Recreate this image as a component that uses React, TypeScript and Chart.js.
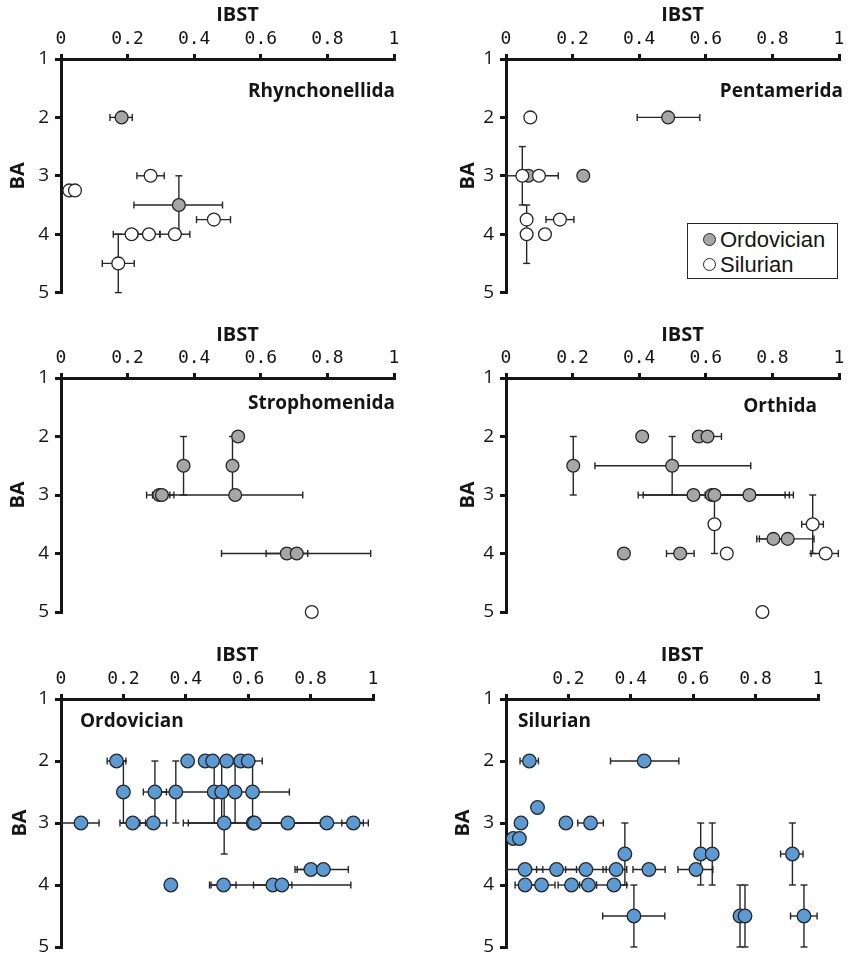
import React, { useEffect, useRef } from 'react';
import { Chart, registerables } from 'chart.js';

Chart.register(...registerables);

// Row: [IBST, BA, IBST low, IBST high, BA low, BA high]
type Row = [number, number, number | null, number | null, number | null, number | null];

const xTicks = [0, 0.2, 0.4, 0.6, 0.8, 1];
const yTicks = [1, 2, 3, 4, 5];

// Rhynchonellida
const rhyOrd: Row[] = [
  [0.182, 2, 0.147, 0.214, null, null],
  [0.354, 3.5, 0.219, 0.485, 3, 4],
];
const rhySil: Row[] = [
  [0.269, 3, 0.228, 0.31, null, null],
  [0.025, 3.25, null, null, null, null],
  [0.042, 3.25, null, null, null, null],
  [0.459, 3.75, 0.407, 0.509, null, null],
  [0.212, 4, 0.157, 0.264, null, null],
  [0.264, 4, 0.23, 0.297, null, null],
  [0.342, 4, 0.297, 0.387, null, null],
  [0.172, 4.5, 0.124, 0.22, 4, 5],
];

// Pentamerida
const penOrd: Row[] = [
  [0.487, 2, 0.394, 0.582, null, null],
  [0.067, 3, null, null, null, null],
  [0.232, 3, null, null, null, null],
];
const penSil: Row[] = [
  [0.073, 2, null, null, null, null],
  [0.049, 3, 0.002, 0.096, 2.5, 3.5],
  [0.099, 3, 0.041, 0.157, null, null],
  [0.062, 3.75, null, null, null, null],
  [0.162, 3.75, 0.12, 0.204, null, null],
  [0.062, 4, null, null, 3.5, 4.5],
  [0.117, 4, null, null, null, null],
];

// Strophomenida
const strOrd: Row[] = [
  [0.532, 2, null, null, null, null],
  [0.368, 2.5, null, null, 2, 3],
  [0.515, 2.5, null, null, 2, 3],
  [0.295, 3, 0.257, 0.339, null, null],
  [0.303, 3, 0.275, 0.327, null, null],
  [0.523, 3, 0.32, 0.726, null, null],
  [0.678, 4, 0.616, 0.741, null, null],
  [0.708, 4, 0.482, 0.93, null, null],
];
const strSil: Row[] = [[0.753, 5, null, null, null, null]];

// Orthida
const ortOrd: Row[] = [
  [0.409, 2, null, null, null, null],
  [0.579, 2, null, null, null, null],
  [0.605, 2, 0.562, 0.647, null, null],
  [0.202, 2.5, null, null, 2, 3],
  [0.499, 2.5, 0.267, 0.735, 2, 3],
  [0.563, 3, null, null, null, null],
  [0.618, 3, 0.397, 0.838, null, null],
  [0.626, 3, 0.412, 0.851, null, null],
  [0.731, 3, 0.598, 0.863, null, null],
  [0.803, 3.75, 0.753, 0.85, null, null],
  [0.846, 3.75, 0.761, 0.925, null, null],
  [0.354, 4, null, null, null, null],
  [0.523, 4, 0.482, 0.565, null, null],
];
const ortSil: Row[] = [
  [0.626, 3.5, null, null, 3, 4],
  [0.921, 3.5, 0.888, 0.953, 3, 4],
  [0.663, 4, null, null, null, null],
  [0.96, 4, 0.916, 0.998, null, null],
  [0.77, 5, null, null, null, null],
];

// Ordovician (all orders)
const ordAll: Row[] = [
  [0.178, 2, 0.148, 0.208, null, null],
  [0.406, 2, null, null, null, null],
  [0.462, 2, null, null, null, null],
  [0.486, 2, null, null, null, null],
  [0.531, 2, null, null, null, null],
  [0.576, 2, null, null, null, null],
  [0.6, 2, 0.555, 0.645, null, null],
  [0.2, 2.5, null, null, 2, 3],
  [0.301, 2.5, 0.264, 0.338, 2, 3],
  [0.368, 2.5, null, null, 2, 3],
  [0.491, 2.5, null, null, 2, 3],
  [0.515, 2.5, 0.296, 0.732, 2, 3],
  [0.558, 2.5, null, null, 2, 3],
  [0.614, 2.5, null, null, 2, 3],
  [0.064, 3, 0.002, 0.122, null, null],
  [0.23, 3, 0.189, 0.271, null, null],
  [0.296, 3, 0.253, 0.339, null, null],
  [0.523, 3, null, null, 2.5, 3.5],
  [0.616, 3, 0.392, 0.84, null, null],
  [0.62, 3, 0.408, 0.832, null, null],
  [0.727, 3, 0.603, 0.851, null, null],
  [0.852, 3, 0.735, 0.969, null, null],
  [0.937, 3, 0.9, 0.985, null, null],
  [0.801, 3.75, 0.75, 0.852, null, null],
  [0.841, 3.75, 0.757, 0.921, null, null],
  [0.352, 4, null, null, null, null],
  [0.521, 4, 0.476, 0.561, null, null],
  [0.679, 4, 0.617, 0.74, null, null],
  [0.708, 4, 0.481, 0.929, null, null],
];

// Silurian (all orders)
const silAll: Row[] = [
  [0.075, 2, 0.045, 0.104, null, null],
  [0.443, 2, 0.335, 0.554, null, null],
  [0.101, 2.75, null, null, null, null],
  [0.048, 3, null, null, null, null],
  [0.192, 3, null, null, null, null],
  [0.271, 3, 0.23, 0.312, null, null],
  [0.023, 3.25, null, null, null, null],
  [0.043, 3.25, null, null, null, null],
  [0.381, 3.5, null, null, 3, 4],
  [0.624, 3.5, null, null, 3, 4],
  [0.661, 3.5, null, null, 3, 4],
  [0.918, 3.5, 0.88, 0.952, 3, 4],
  [0.061, 3.75, 0.002, 0.118, null, null],
  [0.162, 3.75, 0.098, 0.226, null, null],
  [0.256, 3.75, 0.191, 0.321, null, null],
  [0.353, 3.75, 0.311, 0.387, null, null],
  [0.458, 3.75, 0.407, 0.51, null, null],
  [0.609, 3.75, 0.551, 0.663, null, null],
  [0.061, 4, 0.029, 0.098, null, null],
  [0.114, 4, 0.07, 0.157, null, null],
  [0.21, 4, 0.167, 0.25, null, null],
  [0.264, 4, 0.236, 0.29, null, null],
  [0.346, 4, 0.29, 0.387, null, null],
  [0.41, 4.5, 0.31, 0.509, 4, 5],
  [0.75, 4.5, null, null, 4, 5],
  [0.766, 4.5, null, null, 4, 5],
  [0.955, 4.5, 0.912, 0.997, 4, 5],
];

const GRAY = '#a6a6a6';
const WHITE = '#ffffff';
const BLUE = '#5b9bd5';
const EDGE = '#262626';
const INK = '#151515';

const errorBarPlugin = {
  id: 'errorBars',
  beforeDatasetsDraw(chart: any) {
    const ctx = chart.ctx as CanvasRenderingContext2D;
    const xs = chart.scales.x;
    const ys = chart.scales.y;
    const cap = 3.5;
    ctx.save();
    ctx.strokeStyle = EDGE;
    ctx.lineWidth = 1.4;
    const seg = (a: number, b: number, c: number, d: number) => {
      ctx.beginPath();
      ctx.moveTo(a, b);
      ctx.lineTo(c, d);
      ctx.stroke();
    };
    chart.data.datasets.forEach((ds: any) => {
      (ds.rows as Row[]).forEach((r) => {
        const [x, y, xl, xh, yl, yh] = r;
        const px = xs.getPixelForValue(x);
        const py = ys.getPixelForValue(y);
        if (xl !== null && xh !== null) {
          const a = xs.getPixelForValue(xl);
          const b = xs.getPixelForValue(xh);
          seg(a, py, b, py);
          seg(a, py - cap, a, py + cap);
          seg(b, py - cap, b, py + cap);
        }
        if (yl !== null && yh !== null) {
          const a = ys.getPixelForValue(yl);
          const b = ys.getPixelForValue(yh);
          seg(px, a, px, b);
          seg(px - cap, a, px + cap, a);
          seg(px - cap, b, px + cap, b);
        }
      });
    });
    ctx.restore();
  },
};

interface Series { label: string; rows: Row[]; fill: string; order: number }
interface PanelSpec {
  left: number; top: number; width: number; height: number;
  area: { l: number; t: number; r: number; b: number };
  series: Series[];
  hideZero: boolean;
  xTitle: string; xTitlePad: number; yTitlePad: number;
  radius: number;
}

const EN = '\u2002';

const panels: PanelSpec[] = [
  {
    left: 0, top: 0, width: 425, height: 310, area: { l: 61, t: 59, r: 394, b: 293 },
    series: [
      { label: 'Ordovician', rows: rhyOrd, fill: GRAY, order: 1 },
      { label: 'Silurian', rows: rhySil, fill: WHITE, order: 0 },
    ],
    hideZero: false, xTitle: EN + EN + 'IBST', xTitlePad: 3, yTitlePad: 6, radius: 6.4,
  },
  {
    left: 425, top: 0, width: 426, height: 310, area: { l: 81, t: 59, r: 414, b: 293 },
    series: [
      { label: 'Ordovician', rows: penOrd, fill: GRAY, order: 1 },
      { label: 'Silurian', rows: penSil, fill: WHITE, order: 0 },
    ],
    hideZero: false, xTitle: EN + EN + 'IBST', xTitlePad: 3, yTitlePad: 31, radius: 6.4,
  },
  {
    left: 0, top: 320, width: 425, height: 310, area: { l: 61, t: 58, r: 394, b: 292 },
    series: [
      { label: 'Ordovician', rows: strOrd, fill: GRAY, order: 1 },
      { label: 'Silurian', rows: strSil, fill: WHITE, order: 0 },
    ],
    hideZero: false, xTitle: EN + EN + 'IBST', xTitlePad: 3, yTitlePad: 6, radius: 6.4,
  },
  {
    left: 425, top: 320, width: 426, height: 310, area: { l: 81, t: 58, r: 414, b: 292 },
    series: [
      { label: 'Ordovician', rows: ortOrd, fill: GRAY, order: 1 },
      { label: 'Silurian', rows: ortSil, fill: WHITE, order: 0 },
    ],
    hideZero: false, xTitle: EN + EN + 'IBST', xTitlePad: 3, yTitlePad: 31, radius: 6.4,
  },
  {
    left: 0, top: 630, width: 425, height: 336, area: { l: 61, t: 69, r: 373, b: 317 },
    series: [{ label: 'Ordovician', rows: ordAll, fill: BLUE, order: 0 }],
    hideZero: false, xTitle: EN + EN + EN + EN + 'IBST', xTitlePad: 13, yTitlePad: 8, radius: 6.8,
  },
  {
    left: 425, top: 630, width: 426, height: 336, area: { l: 81, t: 69, r: 393, b: 317 },
    series: [{ label: 'Silurian', rows: silAll, fill: BLUE, order: 0 }],
    hideZero: true, xTitle: EN + EN + EN + EN + 'IBST', xTitlePad: 13, yTitlePad: 26, radius: 6.8,
  },
];

function Panel({ spec }: { spec: PanelSpec }) {
  const ref = useRef<HTMLCanvasElement | null>(null);
  useEffect(() => {
    const canvas = ref.current;
    if (!canvas) return;
    const { area } = spec;
    const axisGrid = (len: number) => ({
      display: true, drawOnChartArea: false, drawTicks: true, tickLength: len, lineWidth: 3, color: INK,
    });
    const chart = new Chart(canvas, {
      type: 'scatter',
      data: {
        datasets: spec.series.map((s) => ({
          label: s.label,
          data: s.rows.map((r) => ({ x: r[0], y: r[1] })),
          rows: s.rows,
          backgroundColor: s.fill,
          borderColor: EDGE,
          pointRadius: spec.radius,
          pointHoverRadius: spec.radius,
          pointBorderWidth: 1.3,
          order: s.order,
          clip: false,
        })) as any,
      },
      options: {
        responsive: false,
        animation: false,
        devicePixelRatio: 1,
        events: [],
        layout: { padding: { left: 0, top: 0, right: spec.width - area.r, bottom: spec.height - area.b } },
        plugins: { legend: { display: false }, tooltip: { enabled: false } },
        scales: {
          x: {
            type: 'linear', position: 'top', min: 0, max: 1,
            afterBuildTicks: (s: any) => { s.ticks = xTicks.map((v) => ({ value: v })); },
            ticks: {
              autoSkip: false, maxRotation: 0, padding: 4, color: INK,
              font: { family: 'DejaVu Sans Mono', size: 18 },
              callback: (v: any) => (spec.hideZero && Number(v) === 0 ? '' : String(Number(Number(v).toFixed(1)))),
            },
            grid: axisGrid(5),
            border: { display: true, width: 3, color: INK },
            title: {
              display: true, text: spec.xTitle, color: INK,
              font: { family: 'Open Sans', size: 20, weight: 'bold' },
              padding: { top: spec.xTitlePad, bottom: 0 },
            },
            afterFit: (s: any) => { s.height = area.t; },
          },
          y: {
            type: 'linear', position: 'left', min: 1, max: 5, reverse: true,
            afterBuildTicks: (s: any) => { s.ticks = yTicks.map((v) => ({ value: v })); },
            ticks: {
              autoSkip: false, padding: 6, color: INK,
              font: { family: 'Open Sans', size: 19 },
            },
            grid: axisGrid(6),
            border: { display: true, width: 3, color: INK },
            title: {
              display: true, text: 'BA', color: INK,
              font: { family: 'Open Sans', size: 20, weight: 'bold' },
              padding: { top: spec.yTitlePad, bottom: 0 },
            },
            afterFit: (s: any) => { s.width = area.l; },
          },
        },
      } as any,
      plugins: [errorBarPlugin],
    });
    return () => chart.destroy();
  }, [spec]);
  return (
    <canvas
      ref={ref}
      width={spec.width}
      height={spec.height}
      style={{ position: 'absolute', left: spec.left, top: spec.top, width: spec.width, height: spec.height }}
    />
  );
}

const titleStyle: React.CSSProperties = {
  position: 'absolute', fontFamily: 'Open Sans', fontWeight: 700, fontSize: 19, lineHeight: '26px',
  color: INK, whiteSpace: 'nowrap',
};

const dot = (fill: string): React.CSSProperties => ({
  display: 'inline-block', width: 11, height: 11, borderRadius: '50%', background: fill,
  border: `1.3px solid ${EDGE}`, marginRight: 4, verticalAlign: 'middle', position: 'relative', top: -2,
});

export default function App() {
  return (
    <div style={{ position: 'absolute', left: 0, top: 0, width: 851, height: 966, background: '#fff', overflow: 'hidden' }}>
      {panels.map((p, i) => (
        <Panel key={i} spec={p} />
      ))}
      <div style={{ ...titleStyle, right: 851 - 395, top: 90 - 13 }}>Rhynchonellida</div>
      <div style={{ ...titleStyle, right: 851 - 843, top: 90 - 13 }}>Pentamerida</div>
      <div style={{ ...titleStyle, right: 851 - 395, top: 402 - 13 }}>Strophomenida</div>
      <div style={{ ...titleStyle, right: 851 - 817, top: 405 - 13 }}>Orthida</div>
      <div style={{ ...titleStyle, left: 80, top: 720 - 13 }}>Ordovician</div>
      <div style={{ ...titleStyle, left: 518, top: 720 - 13 }}>Silurian</div>
      <div
        style={{
          position: 'absolute', left: 687, top: 223, width: 151, height: 56, border: `1px solid ${EDGE}`,
          background: '#fff', fontFamily: 'Liberation Sans', fontSize: 22, lineHeight: '25px', color: INK,
          paddingLeft: 15, paddingTop: 3, boxSizing: 'border-box',
        }}
      >
        <div><span style={dot(GRAY)} />Ordovician</div>
        <div><span style={dot(WHITE)} />Silurian</div>
      </div>
    </div>
  );
}
